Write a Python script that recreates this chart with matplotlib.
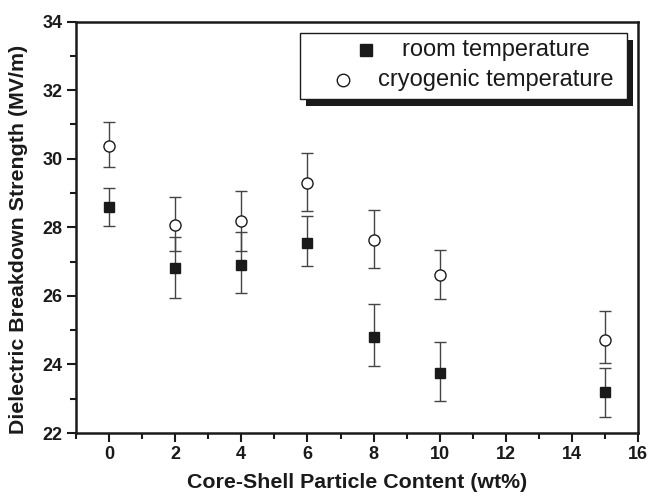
import numpy as np
import matplotlib.pyplot as plt
from matplotlib.patches import Rectangle
from matplotlib.ticker import MultipleLocator

plt.rcParams['font.family'] = ['Liberation Sans', 'DejaVu Sans']

# 数据
content = [0, 2, 4, 6, 8, 10, 15]
room = [28.6, 26.8, 26.9, 27.55, 24.8, 23.75, 23.2]
room_low = [28.05, 25.93, 26.08, 26.86, 23.94, 22.93, 22.48]
room_high = [29.15, 27.72, 27.86, 28.32, 25.76, 24.65, 23.9]
cryo = [30.38, 28.07, 28.17, 29.3, 27.63, 26.62, 24.7]
cryo_low = [29.76, 27.3, 27.3, 28.46, 26.81, 25.9, 24.04]
cryo_high = [31.06, 28.87, 29.05, 30.17, 28.5, 27.35, 25.56]
labels = ['room temperature', 'cryogenic temperature']

ink = '#1a1a1a'

fig = plt.figure(figsize=(6.48, 5.0), dpi=100)
ax = fig.add_axes([0.117, 0.134, 0.868, 0.823])

def yerr(vals, lo, hi):
    v = np.array(vals)
    return [v - np.array(lo), np.array(hi) - v]

ax.errorbar(content, room, yerr=yerr(room, room_low, room_high), fmt='s', ms=7,
            mfc=ink, mec=ink, ecolor='#444444', elinewidth=1,
            capsize=4, capthick=1, zorder=3)
ax.errorbar(content, cryo, yerr=yerr(cryo, cryo_low, cryo_high), fmt='o', ms=8,
            mfc='white', mec=ink, mew=1, ecolor='#444444', elinewidth=1,
            capsize=4, capthick=1, zorder=3)

ax.set_xlim(-1, 16)
ax.set_ylim(22, 34)
ax.xaxis.set_major_locator(MultipleLocator(2))
ax.xaxis.set_minor_locator(MultipleLocator(1))
ax.yaxis.set_major_locator(MultipleLocator(2))
ax.yaxis.set_minor_locator(MultipleLocator(1))
ax.tick_params(which='both', direction='out', width=1.5, colors=ink)
ax.tick_params(which='major', length=6.5, labelsize=13, pad=3)
ax.tick_params(which='minor', length=4)
for lab in ax.get_xticklabels() + ax.get_yticklabels():
    lab.set_fontweight('bold')
for s in ax.spines.values():
    s.set_linewidth(1.8)
    s.set_color(ink)

ax.set_xlabel('Core-Shell Particle Content (wt%)', fontsize=15.4, fontweight='bold', labelpad=7, color=ink)
ax.set_ylabel('Dielectric Breakdown Strength (MV/m)', fontsize=15.4, fontweight='bold', color=ink)
ax.yaxis.set_label_coords(-0.085, 0.47)

# 图例（手绘，黑色阴影）
box_x0, box_x1, box_y0, box_y1 = 0.399, 0.980, 0.812, 0.9725
dx, dy = 0.0107, 0.017
ax.add_patch(Rectangle((box_x0 + dx, box_y0 - dy), box_x1 - box_x0, box_y1 - box_y0,
                       transform=ax.transAxes, facecolor=ink, edgecolor='none', zorder=5, clip_on=False))
ax.add_patch(Rectangle((box_x0, box_y0), box_x1 - box_x0, box_y1 - box_y0,
                       transform=ax.transAxes, facecolor='white', edgecolor=ink, lw=1, zorder=6, clip_on=False))
row_y = [0.931, 0.858]
ax.plot([0.516], [row_y[0]], 's', ms=8.5, mfc=ink, mec=ink, transform=ax.transAxes, zorder=7, clip_on=False)
ax.plot([0.4745], [row_y[1]], 'o', ms=9, mfc='white', mec=ink, mew=1, transform=ax.transAxes, zorder=7, clip_on=False)
for lab, yy in zip(labels, row_y):
    ax.text(0.747, yy, lab, transform=ax.transAxes, ha='center', va='center',
            fontsize=17, color=ink, zorder=7)

fig.savefig('out.png', dpi=100)
